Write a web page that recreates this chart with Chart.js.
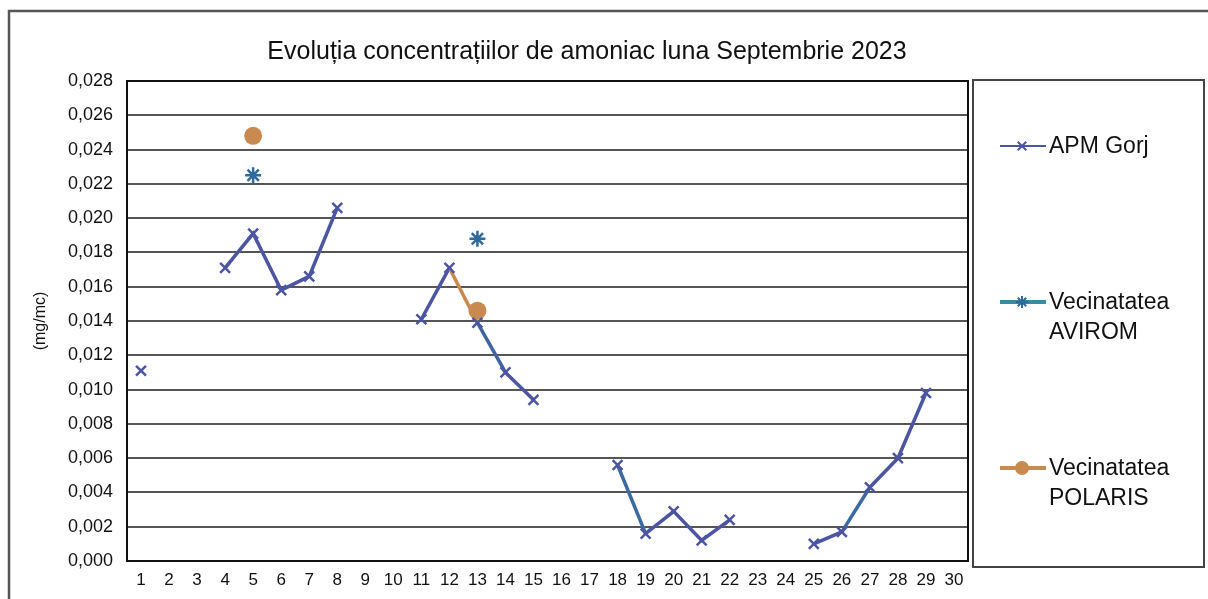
<!DOCTYPE html>
<html>
<head>
<meta charset="utf-8">
<script src="https://cdn.jsdelivr.net/npm/chart.js@4/dist/chart.umd.min.js"></script>
<style>
  html, body { margin: 0; padding: 0; background: #fff; }
  #wrap { width: 1208px; height: 599px; position: relative; }
</style>
</head>
<body>
<div id="wrap"><canvas id="chart" width="1208" height="599"></canvas></div>
<script>
// Days of September 2023
const DAYS = ['1','2','3','4','5','6','7','8','9','10','11','12','13','14','15',
  '16','17','18','19','20','21','22','23','24','25','26','27','28','29','30'];

// Ammonia concentrations (mg/mc), null = no measurement
const APM_GORJ = [0.0111, null, null, 0.0171, 0.0191, 0.0158, 0.0166, 0.0206, null, null,
  0.0141, 0.0171, 0.0139, 0.0110, 0.0094, null, null, 0.0056, 0.0016, 0.0029,
  0.0012, 0.0024, null, null, 0.0010, 0.0017, 0.0043, 0.0060, 0.0098, null];

const AVIROM = [null, null, null, null, 0.0225, null, null, null, null, null,
  null, null, 0.0188, null, null, null, null, null, null, null,
  null, null, null, null, null, null, null, null, null, null];

const POLARIS = [null, null, null, null, 0.0248, null, null, null, null, null,
  null, null, 0.0146, null, null, null, null, null, null, null,
  null, null, null, null, null, null, null, null, null, null];

const TITLE = 'Evoluția concentrațiilor de amoniac luna Septembrie 2023';

const Y_MIN = 0;
const Y_MAX = 0.028;
const Y_STEP = 0.002;

const COL_APM = '#4C55A2';
const COL_AVIROM = '#2F6A9C';
const COL_AVIROM_LINE = '#3A8AA2';
const COL_POLARIS = '#C98A4F';

// a few APM segments look tinted by the other series in the scan
const SEGMENT_TINT = { 11: COL_POLARIS, 12: '#3F64A0', 17: '#3A6AA0', 25: '#3A6AA0' };

const FONT = 'Arial, "Liberation Sans", sans-serif';
const NARROW = '"Liberation Sans Narrow", "Arial Narrow", Arial, sans-serif';

const frame = {
  id: 'frame',
  beforeDraw(chart) {
    const { ctx } = chart;
    ctx.save();
    ctx.fillStyle = '#fff';
    ctx.fillRect(0, 0, chart.width, chart.height);
    ctx.strokeStyle = '#555';
    ctx.lineWidth = 2.5;
    ctx.beginPath();
    ctx.moveTo(9, chart.height);
    ctx.lineTo(9, 11);
    ctx.lineTo(chart.width, 11);
    ctx.stroke();

    // title, centred over the whole frame
    ctx.fillStyle = '#111';
    ctx.font = '25px ' + FONT;
    ctx.textAlign = 'center';
    ctx.textBaseline = 'middle';
    ctx.fillText(TITLE, 587, 52);
    ctx.restore();
  },
  afterDraw(chart) {
    const { ctx, chartArea: a } = chart;
    ctx.save();
    ctx.strokeStyle = '#111';
    ctx.lineWidth = 2;
    ctx.strokeRect(a.left, a.top, a.right - a.left, a.bottom - a.top);

    // legend box
    ctx.strokeStyle = '#444';
    ctx.lineWidth = 2;
    ctx.strokeRect(973, 80, 231, 487);

    const items = [
      { y: 146, lines: ['APM Gorj'], color: COL_APM, width: 2, style: 'crossRot', r: 6, fill: COL_APM },
      { y: 302, lines: ['Vecinatatea', 'AVIROM'], color: COL_AVIROM_LINE, width: 4, style: 'star', r: 6, fill: COL_AVIROM },
      { y: 468, lines: ['Vecinatatea', 'POLARIS'], color: COL_POLARIS, width: 4, style: 'circle', r: 6, fill: COL_POLARIS }
    ];
    items.forEach(it => {
      ctx.strokeStyle = it.color;
      ctx.lineWidth = it.width;
      ctx.beginPath();
      ctx.moveTo(1000, it.y);
      ctx.lineTo(1046, it.y);
      ctx.stroke();
      ctx.fillStyle = it.fill;
      ctx.strokeStyle = it.fill;
      ctx.lineWidth = 2;
      Chart.helpers.drawPoint(ctx, { pointStyle: it.style, radius: it.r, rotation: 0, borderWidth: 2 }, 1022, it.y);
      ctx.fillStyle = '#111';
      ctx.font = '23px ' + FONT;
      ctx.textBaseline = 'middle';
      ctx.textAlign = 'left';
      it.lines.forEach((t, i) => ctx.fillText(t, 1049, it.y + 1 + i * 30));
    });
    ctx.restore();
  }
};

const fmt = v => v.toFixed(3).replace('.', ',');

new Chart(document.getElementById('chart'), {
  type: 'line',
  data: {
    labels: DAYS,
    datasets: [
      {
        label: 'APM Gorj',
        data: APM_GORJ,
        borderColor: COL_APM,
        backgroundColor: COL_APM,
        borderWidth: 3.5,
        pointStyle: 'crossRot',
        pointRadius: 7,
        pointBorderWidth: 2.5,
        spanGaps: false,
        segment: {
          borderColor: c => SEGMENT_TINT[c.p0DataIndex] || COL_APM
        }
      },
      {
        label: 'Vecinatatea AVIROM',
        data: AVIROM,
        borderColor: COL_AVIROM_LINE,
        backgroundColor: COL_AVIROM,
        pointBorderColor: COL_AVIROM,
        borderWidth: 3,
        pointStyle: 'star',
        pointRadius: 8,
        pointBorderWidth: 2.5,
        spanGaps: false
      },
      {
        label: 'Vecinatatea POLARIS',
        data: POLARIS,
        borderColor: COL_POLARIS,
        backgroundColor: COL_POLARIS,
        borderWidth: 3,
        pointStyle: 'circle',
        pointRadius: 9,
        pointBorderWidth: 0,
        spanGaps: false
      }
    ]
  },
  options: {
    responsive: false,
    animation: false,
    layout: { padding: { left: 0, right: 240, top: 81, bottom: 0 } },
    plugins: {
      legend: { display: false },
      tooltip: { enabled: false },
      title: { display: false }
    },
    scales: {
      x: {
        type: 'category',
        offset: true,
        grid: { display: false, drawTicks: false },
        border: { display: true, color: '#111', width: 2 },
        ticks: {
          color: '#111',
          font: { size: 17, family: NARROW },
          padding: 9,
          maxRotation: 0,
          autoSkip: false
        },
        afterFit: s => { s.height = 38; }
      },
      y: {
        min: Y_MIN,
        max: Y_MAX,
        ticks: {
          stepSize: Y_STEP,
          color: '#111',
          font: { size: 18, family: FONT },
          padding: 14,
          callback: v => fmt(v)
        },
        grid: { color: '#555', lineWidth: 2, drawTicks: false },
        border: { display: true, color: '#111', width: 2 },
        title: {
          display: true,
          text: '(mg/mc)',
          color: '#111',
          font: { size: 16, family: FONT },
          padding: { top: 31, bottom: 0 }
        },
        afterFit: s => { s.width = 127; }
      }
    }
  },
  plugins: [frame]
});
</script>
</body>
</html>
